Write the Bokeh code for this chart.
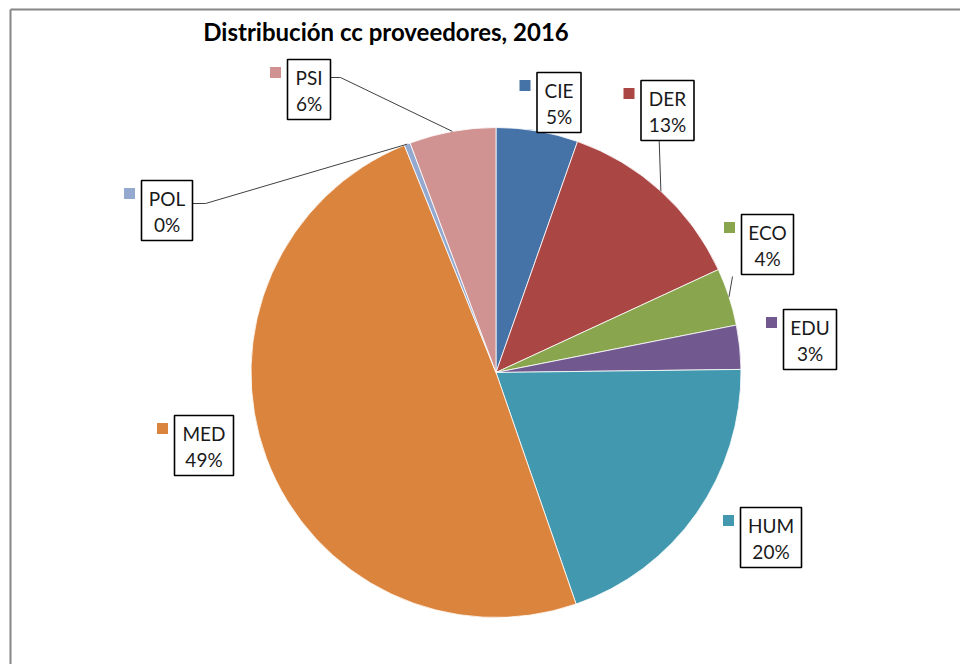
import math
from bokeh.plotting import figure
from bokeh.models import Range1d, ColumnDataSource
from bokeh.core.properties import value
from bokeh.embed import file_html
from bokeh.resources import INLINE

# ---- data ----
categories = ["CIE", "DER", "ECO", "EDU", "HUM", "MED", "POL", "PSI"]
shares = [5.4, 12.7, 3.8, 2.9, 19.9, 49.2, 0.4, 5.7]
colors = ["#4572A7", "#AA4643", "#89A54E", "#71588F", "#4198AF", "#DB843D", "#93A9CF", "#D19392"]
title_text = "Distribución cc proveedores, 2016"

# ---- layout (screen pixel positions of label boxes: center x, center y, width) ----
W, H = 960, 664
box_layout = {
    "CIE": (558.5, 102, 44),
    "DER": (667, 110, 53),
    "ECO": (767, 244, 52),
    "EDU": (809.5, 339, 53),
    "HUM": (770.5, 537, 61),
    "MED": (203.5, 445, 59),
    "POL": (166.5, 210, 51),
    "PSI": (308.5, 89, 43),
}
BOX_H = 60
# leader line start points (screen px), ending at slice mid-point on the rim
leader_start = {
    "PSI": [(330, 77), (340, 77)],
    "POL": [(192, 203), (205, 203)],
    "DER": [(658.7, 140)],
    "ECO": [(732, 276)],
}

def dx(sx):
    return sx

def dy(sy):
    return H - sy

CX, CY, R = dx(495.5), dy(372), 245

p = figure(width=W, height=H, x_range=Range1d(0, W), y_range=Range1d(0, H),
           output_backend="svg", toolbar_location=None, min_border=0)
p.axis.visible = False
p.grid.visible = False
p.outline_line_color = None
p.background_fill_color = "white"
p.border_fill_color = "white"

# chart border (left & top visible, rest outside the window)
p.line([dx(10), dx(10)], [dy(9), 0], line_color="#868686", line_width=2)
p.line([dx(10), W], [dy(9), dy(9)], line_color="#868686", line_width=2)

total = sum(shares)
starts, ends, mids = [], [], []
cum = 0.0
for s in shares:
    c0 = cum / total
    cum += s
    c1 = cum / total
    starts.append(math.pi / 2 - 2 * math.pi * c1)
    ends.append(math.pi / 2 - 2 * math.pi * c0)
    mids.append(math.pi / 2 - 2 * math.pi * (c0 + c1) / 2)

src = ColumnDataSource(dict(cat=categories, share=shares, color=colors,
                            start=starts, end=ends))
p.wedge(x=CX, y=CY, radius=R, start_angle="start", end_angle="end",
        fill_color="color", line_color="white", line_width=0.8, source=src)

# leader lines
for cat, pts in leader_start.items():
    i = categories.index(cat)
    ex = CX + R * math.cos(mids[i])
    ey = CY + R * math.sin(mids[i])
    xs = [dx(a) for a, b in pts] + [ex]
    ys = [dy(b) for a, b in pts] + [ey]
    p.line(xs, ys, line_color="#404040", line_width=1)

# label boxes
bx, by, bw, sqx, sqy, l1y, l2y, t1, t2 = [], [], [], [], [], [], [], [], []
for cat, s in zip(categories, shares):
    cx, cy, w = box_layout[cat]
    bx.append(dx(cx)); by.append(dy(cy)); bw.append(w)
    sqx.append(dx(cx - w / 2 - 12)); sqy.append(dy(cy - BOX_H / 2 + 13))
    l1y.append(dy(cy - 12)); l2y.append(dy(cy + 14))
    t1.append(cat); t2.append(f"{round(s)}%")

lsrc = ColumnDataSource(dict(bx=bx, by=by, bw=bw, sqx=sqx, sqy=sqy, l1y=l1y, l2y=l2y,
                             t1=t1, t2=t2, color=colors))
p.rect(x="bx", y="by", width="bw", height=BOX_H, fill_color="white",
       line_color="black", line_width=1.6, source=lsrc)
p.rect(x="sqx", y="sqy", width=11, height=11, fill_color="color",
       line_color=None, source=lsrc)
p.text(x="bx", y="l1y", text="t1", text_align="center", text_baseline="middle",
       text_font=value("Lato"), text_font_size="19px", text_color="#1a1a1a", source=lsrc)
p.text(x="bx", y="l2y", text="t2", text_align="center", text_baseline="middle",
       text_font=value("Lato"), text_font_size="19px", text_color="#1a1a1a", source=lsrc)

# title
p.text(x=[dx(385.5)], y=[dy(31)], text=[title_text], text_align="center",
       text_baseline="middle", text_font=value("Lato"), text_font_style="bold",
       text_font_size="24px", text_color="black")

open("out.html", "w").write(file_html(p, INLINE))
